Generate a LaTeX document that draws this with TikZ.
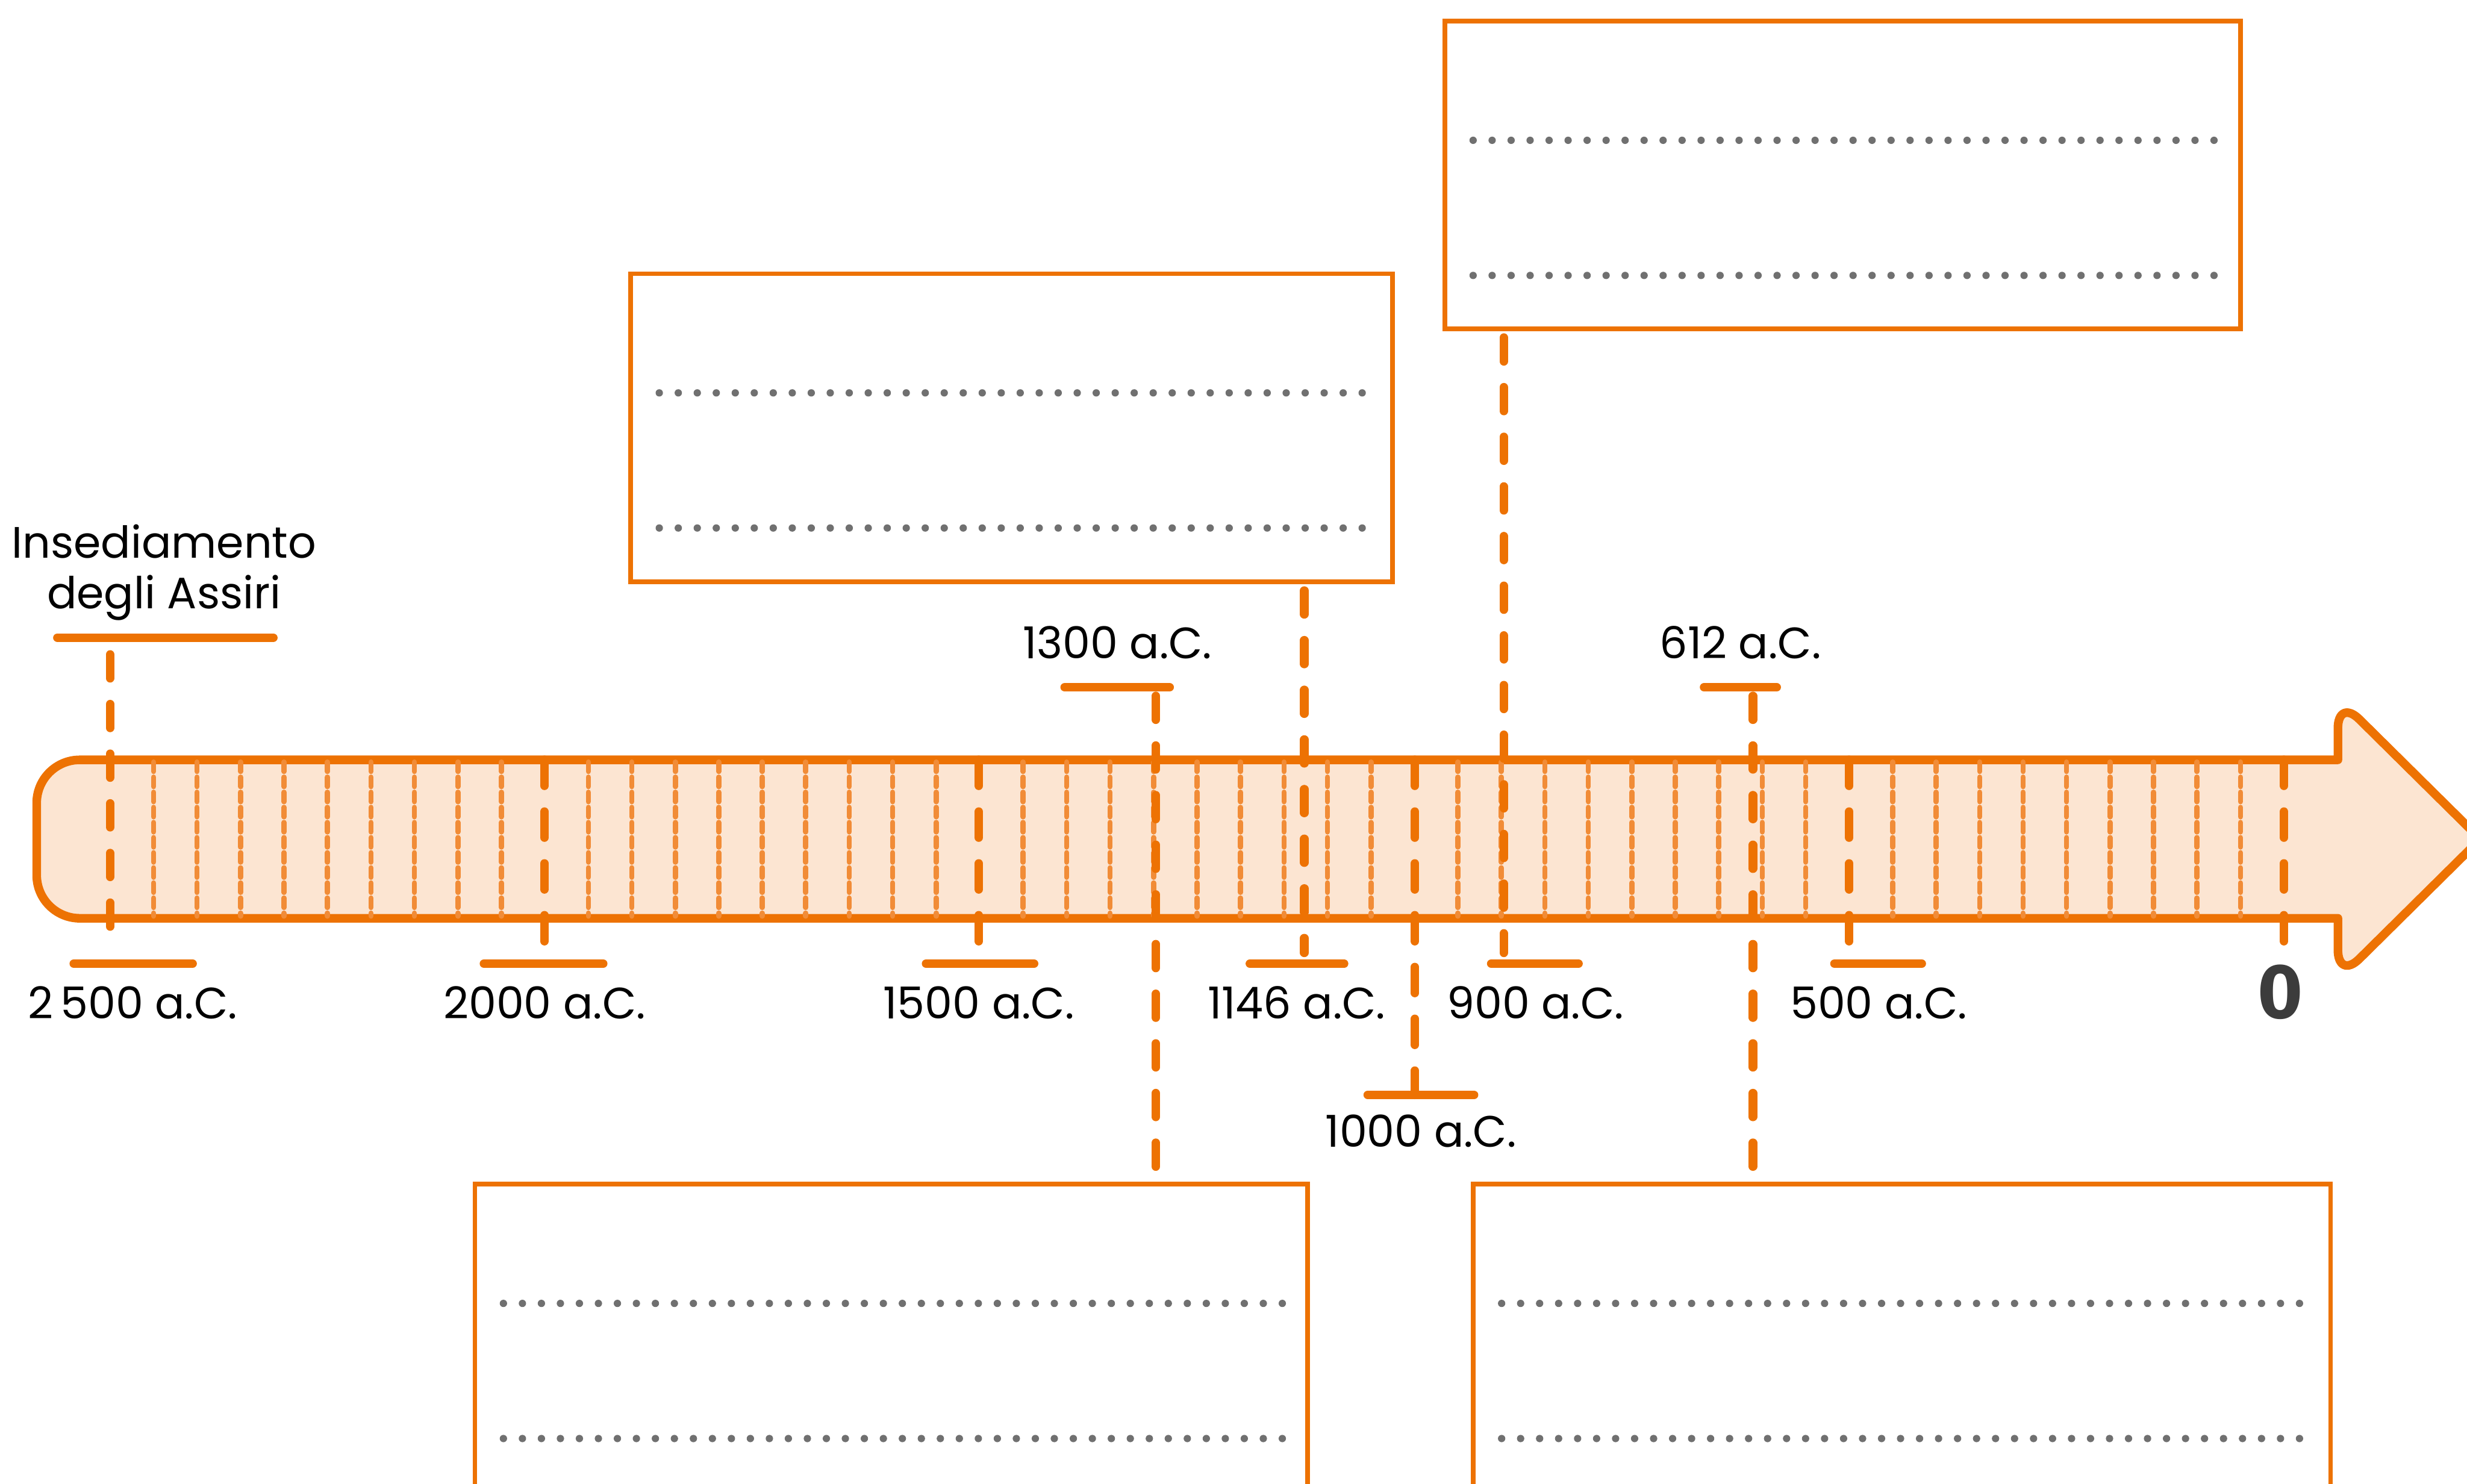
\documentclass[tikz,border=0pt]{standalone}
\usepackage{fontspec}
\setmainfont{Poppins}
\newfontfamily\zerofont{Fira Sans}
\usepackage{xcolor}
\definecolor{tlorange}{RGB}{237,114,3}
\definecolor{tlfill}{RGB}{252,229,210}
\definecolor{tlminor}{RGB}{241,140,55}
\definecolor{tldots}{RGB}{112,112,112}
\definecolor{tldark}{RGB}{60,60,60}
\usetikzlibrary{calc}

\tikzset{
  datebox/.style={draw=tlorange, line width=0.11cm, inner sep=0pt, outer sep=0pt},
  dotrow/.style={tldots, line width=0.17cm, line cap=round, dash pattern=on 0pt off 0.44cm},
  minortick/.style={tlminor, line width=0.12cm, line cap=round, dash pattern=on 0.22cm off 0.13cm},
  majortick/.style={tlorange, line width=0.2cm, line cap=round, dash pattern=on 0.6cm off 0.6cm},
  eventline/.style={tlorange, line width=0.2cm, line cap=round, dash pattern=on 0.55cm off 0.6cm,
                    shorten <=0.2cm, shorten >=0.25cm},
  tickbar/.style={tlorange, line width=0.2cm, line cap=round},
  datelabel/.style={font=\fontsize{29}{35}\selectfont, anchor=base, inner sep=0pt},
}

\begin{document}
\begin{tikzpicture}
  \useasboundingbox (0,0) rectangle (57.14,-34.36);
  \clip (0,0) rectangle (57.14,-34.36);

  % Timeline arrow
  \draw[tlorange, fill=tlfill, line width=0.2cm, line join=round]
       (30,-17.60) [rounded corners=1cm] -- (0.85,-17.60) -- (0.85,-21.27)
       [sharp corners] -- (54.15,-21.27) [rounded corners=0.7cm] -- (54.15,-22.70)
       [rounded corners=0.2cm] -- (57.45,-19.435) [rounded corners=0.7cm] -- (54.15,-16.17)
       [sharp corners] -- (54.15,-17.60) -- cycle;

  % Minor ticks, every 50 years
  \foreach \d in {0,...,4}
    \foreach \u in {1,...,9}
      \draw[minortick] ({2.55+1.007*(10*\d+\u)},-17.65) -- ++(0,-3.57);

  % Points on the timeline
  \coordinate (t2500) at (2.55,-17.60);
  \coordinate (t2000) at (12.61,-17.60);
  \coordinate (t1500) at (22.67,-17.60);
  \coordinate (t1300) at (26.77,-17.60);
  \coordinate (t1146) at (30.21,-17.60);
  \coordinate (t1000) at (32.77,-17.60);
  \coordinate (t900) at (34.83,-17.60);
  \coordinate (t612) at (40.60,-17.60);
  \coordinate (t500) at (42.83,-17.60);
  \coordinate (t0) at (52.90,-17.60);

  % Answer boxes
  \node[datebox, minimum width=17.64cm, minimum height=7.14cm] (box1146) at (23.43,-9.91) {};
  \node[datebox, minimum width=18.43cm, minimum height=7.13cm] (box900) at (42.675,-4.055) {};
  \node[datebox, minimum width=19.29cm, minimum height=7.14cm] (box1300) at (20.645,-31.0) {};
  \node[datebox, minimum width=19.86cm, minimum height=7.14cm] (box612) at (44.05,-31.0) {};
  \foreach \b in {box1146,box900,box1300,box612}
    \foreach \dy in {2.76,5.89}
      \draw[dotrow] ($(\b.north west)+(0.66,-\dy)$) -- ($(\b.north east)+(-0.55,-\dy)$);

  % Date labels
  \node[datelabel, align=center, font=\fontsize{29}{33.6}\selectfont] (ins) at (3.80,-14.10)
       {Insediamento\\degli Assiri};
  \node[datelabel] (l2500) at (3.07,-23.60) {2\,500 a.C.};
  \node[datelabel] (l2000) at (12.61,-23.60) {2000 a.C.};
  \node[datelabel] (l1500) at (22.67,-23.60) {1500 a.C.};
  \node[datelabel] (l1146) at (30.03,-23.60) {1146 a.C.};
  \node[datelabel] (l900) at (35.56,-23.60) {900 a.C.};
  \node[datelabel] (l500) at (43.51,-23.60) {500 a.C.};
  \node[datelabel] (l1000) at (32.91,-26.57) {1000 a.C.};
  \node[datelabel] (l1300) at (25.88,-15.26) {1300 a.C.};
  \node[datelabel] (l612) at (40.31,-15.25) {612 a.C.};
  \node[font={\zerofont\bfseries\fontsize{51}{60}\selectfont}, text=tldark, anchor=base, inner sep=0pt]
       (l0) at (52.82,-23.58) {0};

  % Bars under / over the labels
  \coordinate (barins) at (3.83,-14.77);
  \coordinate (bar2500) at (3.085,-22.32);
  \coordinate (bar2000) at (12.59,-22.32);
  \coordinate (bar1500) at (22.70,-22.32);
  \coordinate (bar1146) at (30.04,-22.32);
  \coordinate (bar900) at (35.55,-22.32);
  \coordinate (bar500) at (43.50,-22.32);
  \coordinate (bar1000) at (32.91,-25.36);
  \coordinate (bar1300) at (25.875,-15.92);
  \coordinate (bar612) at (40.31,-15.92);
  \draw[tickbar] ([xshift=-2.5cm]barins) -- ([xshift=2.5cm]barins);
  \draw[tickbar] ([xshift=-1.375cm]bar2500) -- ([xshift=1.375cm]bar2500);
  \draw[tickbar] ([xshift=-1.38cm]bar2000) -- ([xshift=1.38cm]bar2000);
  \draw[tickbar] ([xshift=-1.25cm]bar1500) -- ([xshift=1.25cm]bar1500);
  \draw[tickbar] ([xshift=-1.09cm]bar1146) -- ([xshift=1.09cm]bar1146);
  \draw[tickbar] ([xshift=-1.01cm]bar900) -- ([xshift=1.01cm]bar900);
  \draw[tickbar] ([xshift=-1.01cm]bar500) -- ([xshift=1.01cm]bar500);
  \draw[tickbar] ([xshift=-1.23cm]bar1000) -- ([xshift=1.23cm]bar1000);
  \draw[tickbar] ([xshift=-1.215cm]bar1300) -- ([xshift=1.215cm]bar1300);
  \draw[tickbar] ([xshift=-0.84cm]bar612) -- ([xshift=0.84cm]bar612);

  % Major ticks
  \foreach \t in {2000,1500,500}
    \draw[majortick, shorten >=0.5cm] (t\t) -- (bar\t -| t\t);
  \draw[majortick, shorten >=0.5cm] (t0) -- (t0 |- l0.north);
  \draw[majortick] (t1000) -- (bar1000 -| t1000);

  % Event lines
  \draw[eventline, shorten <=0.39cm, shorten >=0.59cm] (barins -| t2500) -- (bar2500 -| t2500);
  \draw[eventline] (bar1300 -| t1300) -- (box1300.north -| t1300);
  \draw[eventline] (box1146.south -| t1146) -- (bar1146 -| t1146);
  \draw[eventline] (box900.south -| t900) -- (bar900 -| t900);
  \draw[eventline] (bar612 -| t612) -- (box612.north -| t612);
\end{tikzpicture}
\end{document}
